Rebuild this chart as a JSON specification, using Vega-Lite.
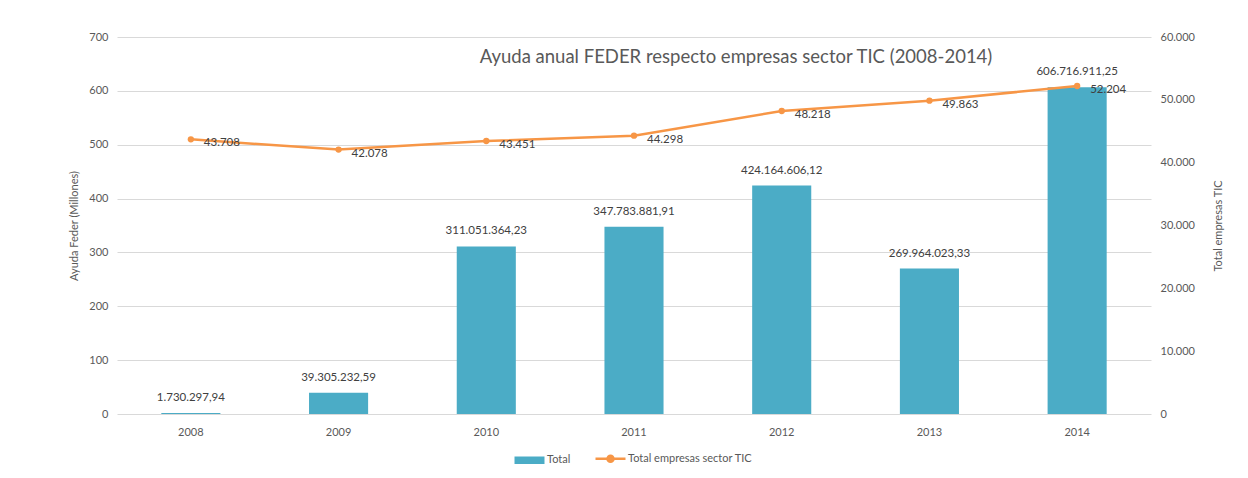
{
  "$schema": "https://vega.github.io/schema/vega-lite/v6.json",
  "width": 1034,
  "height": 377,
  "autosize": {"type": "none"},
  "padding": {"left": 117, "top": 37, "right": 97, "bottom": 64},
  "background": "white",
  "config": {
    "view": {"stroke": null},
    "font": "Lato",
    "axis": {
      "labelFont": "Lato",
      "labelFontSize": 11,
      "labelColor": "#595959",
      "titleFont": "Lato",
      "titleFontSize": 11,
      "titleFontWeight": "normal",
      "titleColor": "#595959",
      "domain": false,
      "ticks": false,
      "gridColor": "#D9D9D9",
      "gridWidth": 1
    }
  },
  "title": {
    "text": "Ayuda anual FEDER respecto empresas sector TIC (2008-2014)",
    "font": "Lato",
    "fontSize": 18.5,
    "fontWeight": "normal",
    "color": "#595959",
    "anchor": "middle",
    "frame": "group",
    "dx": 102,
    "offset": -35
  },
  "data": {
    "values": [
      {"year": "2008", "millones": 1.73029794, "label": "1.730.297,94", "empresas": 43708, "empLabel": "43.708"},
      {"year": "2009", "millones": 39.30523259, "label": "39.305.232,59", "empresas": 42078, "empLabel": "42.078"},
      {"year": "2010", "millones": 311.05136423, "label": "311.051.364,23", "empresas": 43451, "empLabel": "43.451"},
      {"year": "2011", "millones": 347.78388191, "label": "347.783.881,91", "empresas": 44298, "empLabel": "44.298"},
      {"year": "2012", "millones": 424.16460612, "label": "424.164.606,12", "empresas": 48218, "empLabel": "48.218"},
      {"year": "2013", "millones": 269.96402333, "label": "269.964.023,33", "empresas": 49863, "empLabel": "49.863"},
      {"year": "2014", "millones": 606.71691125, "label": "606.716.911,25", "empresas": 52204, "empLabel": "52.204"}
    ]
  },
  "encoding": {
    "x": {
      "field": "year",
      "type": "ordinal",
      "scale": {"paddingInner": 0.6, "paddingOuter": 0.3},
      "axis": {"title": null, "labelAngle": 0, "labelPadding": 12, "grid": false}
    }
  },
  "layer": [
    {
      "encoding": {
        "y": {
          "field": "millones",
          "type": "quantitative",
          "scale": {"domain": [0, 700]},
          "axis": {
            "title": "Ayuda Feder (Millones)",
            "values": [0, 100, 200, 300, 400, 500, 600, 700],
            "labelPadding": 9,
            "titlePadding": 9,
            "grid": true
          }
        }
      },
      "layer": [
        {
          "mark": {"type": "bar"},
          "encoding": {
            "color": {
              "datum": "Total",
              "scale": {"domain": ["Total", "Total empresas sector TIC"], "range": ["#4BACC6", "#F79646"]},
              "legend": {
                "title": null,
                "orient": "none",
                "direction": "horizontal",
                "legendX": 407,
                "legendY": 416,
                "labelFont": "Lato",
                "labelFontSize": 11,
                "labelColor": "#595959",
                "symbolSize": 900,
                "columnPadding": 19,
                "labelOffset": 12,
                "encode": {
                  "symbols": {
                    "update": {
                      "shape": {"signal": "datum.value === 'Total' ? 'M-1,-0.25H1V0.25H-1Z' : 'M-1,0H1M-0.2,0A0.2,0.2 0 1 1 0.2,0A0.2,0.2 0 1 1 -0.2,0Z'"},
                      "fill": {"signal": "datum.value === 'Total' ? '#4BACC6' : '#F79646'"},
                      "stroke": {"signal": "datum.value === 'Total' ? '#4BACC6' : '#F79646'"},
                      "strokeWidth": {"signal": "datum.value === 'Total' ? 0 : 2.5"},
                      "opacity": {"value": 1},
                      "fillOpacity": {"value": 1}
                    }
                  }
                }
              }
            }
          }
        },
        {
          "mark": {"type": "text", "dy": -10, "baseline": "bottom", "fontSize": 11.5, "color": "#404040", "font": "Lato"},
          "encoding": {
            "text": {"field": "label"}
          }
        }
      ]
    },
    {
      "encoding": {
        "y": {
          "field": "empresas",
          "type": "quantitative",
          "scale": {"domain": [0, 60000]},
          "axis": {
            "orient": "right",
            "title": "Total empresas TIC",
            "titleAngle": 270,
            "titleBaseline": "top",
            "values": [0, 10000, 20000, 30000, 40000, 50000, 60000],
            "labelExpr": "replace(format(datum.value, ','), ',', '.')",
            "labelPadding": 9,
            "titlePadding": 18,
            "grid": false
          }
        }
      },
      "layer": [
        {
          "mark": {"type": "line", "strokeWidth": 2.5, "interpolate": "linear"},
          "encoding": {
            "color": {"datum": "Total empresas sector TIC"}
          }
        },
        {
          "mark": {"type": "point", "filled": true, "size": 40, "opacity": 1, "color": "#F79646"}
        },
        {
          "mark": {"type": "text", "align": "left", "baseline": "middle", "dx": 13, "dy": 4, "fontSize": 11.5, "color": "#404040", "font": "Lato"},
          "encoding": {
            "text": {"field": "empLabel"}
          }
        }
      ]
    }
  ],
  "resolve": {"scale": {"y": "independent"}}
}
